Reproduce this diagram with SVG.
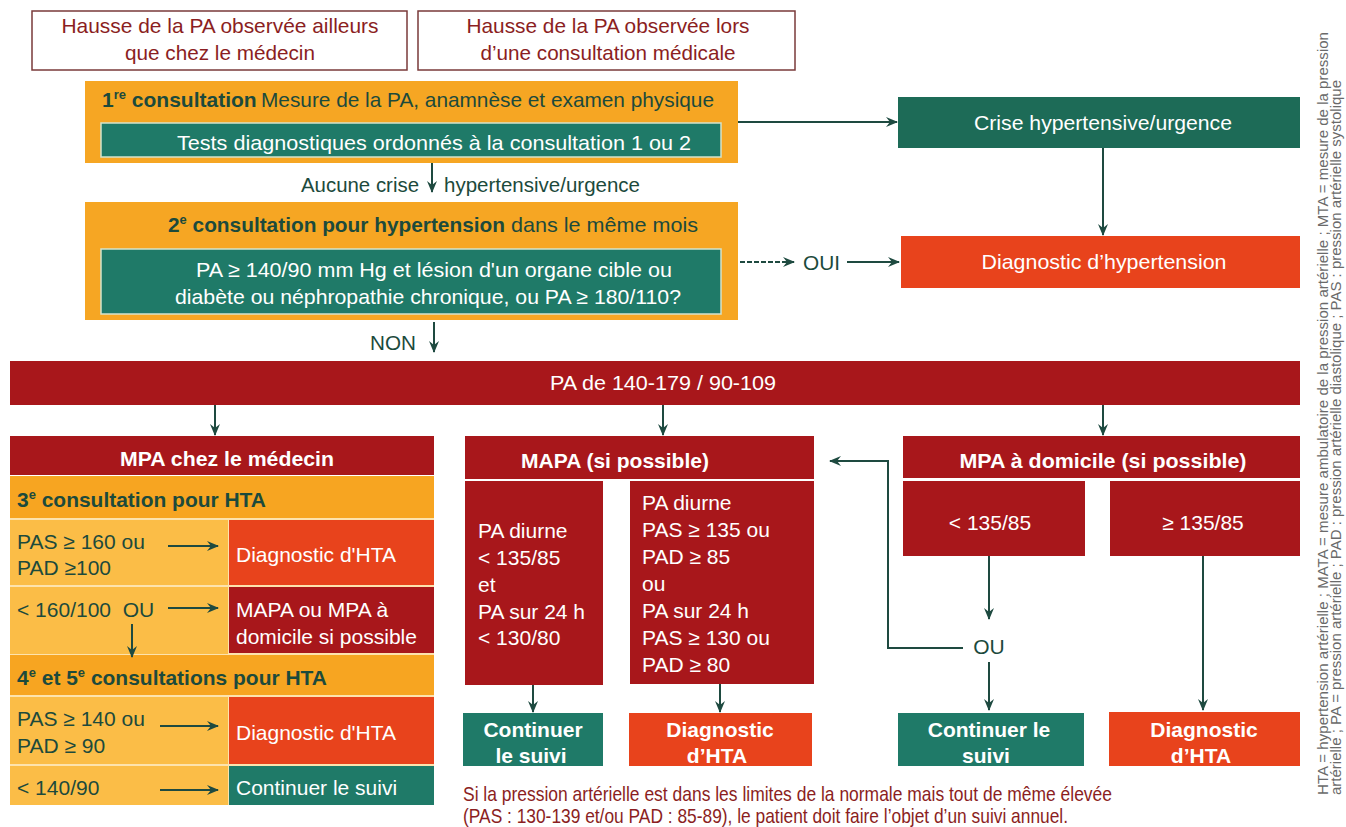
<svg xmlns="http://www.w3.org/2000/svg" width="1346" height="827" viewBox="0 0 1346 827">
<defs>
<marker id="ah" viewBox="0 0 12 10" refX="11" refY="5" markerWidth="12" markerHeight="10" markerUnits="userSpaceOnUse" orient="auto">
<path d="M0,0 L12,5 L0,10 L4,5 z" fill="#1e4a40"/>
</marker>
<style>
text{font-family:"Liberation Sans",Arial,sans-serif;font-size:21px}
.b{font-weight:bold}
.w{fill:#ffffff}
.dg{fill:#1c4a3c}
.dr{fill:#8b1e22}
.mid{text-anchor:middle}
.conn{stroke:#1e4a40;stroke-width:2;fill:none}
.org{fill:#f6a623}
.orgT{fill:#f7a521}
.orgL{fill:#fbbd47}
.red{fill:#a8171b}
.ored{fill:#e8431c}
.teal{fill:#1f7a68}
.tealIn{fill:#1f7a68;stroke:#d5e3cc;stroke-width:1.5}
.top{fill:#ffffff;stroke:#7a3a3a;stroke-width:1.5}
.sup{font-size:13px}
.leg{font-size:14px;fill:#6a6a6a}
</style>
</defs>
<rect width="1346" height="827" fill="#ffffff"/>

<g id="start-ailleurs">
<rect class="top" x="32" y="11" width="375" height="59"/>
<text class="dr mid" x="220" y="33" textLength="317" lengthAdjust="spacingAndGlyphs">Hausse de la PA observée ailleurs</text>
<text class="dr mid" x="220" y="60" textLength="190" lengthAdjust="spacingAndGlyphs">que chez le médecin</text>
</g>

<g id="start-consultation">
<rect class="top" x="418" y="11" width="377" height="59"/>
<text class="dr mid" x="608" y="33" textLength="283" lengthAdjust="spacingAndGlyphs">Hausse de la PA observée lors</text>
<text class="dr mid" x="608" y="60" textLength="255" lengthAdjust="spacingAndGlyphs">d’une consultation médicale</text>
</g>

<g id="consult1">
<rect class="org" x="85" y="81" width="653" height="82"/>
<text class="dg b" x="102" y="107">1<tspan class="sup" dy="-8">re</tspan><tspan dy="8"> consultation</tspan></text>
<text class="dg" x="261" y="107" textLength="453" lengthAdjust="spacingAndGlyphs">Mesure de la PA, anamnèse et examen physique</text>
<rect class="tealIn" x="101" y="123" width="620" height="34"/>
<text class="w" x="177" y="150" textLength="514" lengthAdjust="spacingAndGlyphs">Tests diagnostiques ordonnés à la consultation 1 ou 2</text>
</g>

<g id="label-aucune">
<text class="dg" x="301" y="192" font-size="19" textLength="118" lengthAdjust="spacingAndGlyphs">Aucune crise</text>
<text class="dg" x="444" y="192" font-size="19" textLength="196" lengthAdjust="spacingAndGlyphs">hypertensive/urgence</text>
</g>

<g id="consult2">
<rect class="org" x="85" y="202" width="653" height="118"/>
<text class="dg b" x="168" y="232" textLength="337" lengthAdjust="spacingAndGlyphs">2<tspan class="sup" dy="-8">e</tspan><tspan dy="8"> consultation pour hypertension</tspan></text>
<text class="dg" x="511" y="232" textLength="187" lengthAdjust="spacingAndGlyphs">dans le même mois</text>
<rect class="tealIn" x="101" y="249" width="620" height="65"/>
<text class="w" x="196" y="277" textLength="476" lengthAdjust="spacingAndGlyphs">PA ≥ 140/90 mm Hg et lésion d'un organe cible ou</text>
<text class="w" x="175" y="304" textLength="506" lengthAdjust="spacingAndGlyphs">diabète ou néphropathie chronique, ou PA ≥ 180/110?</text>
</g>

<g id="label-non">
<text class="dg" x="370" y="350" textLength="46" lengthAdjust="spacingAndGlyphs">NON</text>
</g>

<g id="crise">
<rect x="898" y="97" width="402" height="51" fill="#1d6b57"/>
<text class="w mid" x="1103" y="130" textLength="258" lengthAdjust="spacingAndGlyphs">Crise hypertensive/urgence</text>
</g>

<g id="diag-hypertension">
<rect class="ored" x="901" y="236" width="399" height="52"/>
<text class="w mid" x="1104" y="269" textLength="245" lengthAdjust="spacingAndGlyphs">Diagnostic d’hypertension</text>
</g>

<g id="label-oui">
<text class="dg" x="803" y="270" textLength="37" lengthAdjust="spacingAndGlyphs">OUI</text>
</g>

<g id="pa-range">
<rect class="red" x="10" y="361" width="1290" height="44"/>
<text class="w mid" x="663" y="390" textLength="226" lengthAdjust="spacingAndGlyphs">PA de 140-179 / 90-109</text>
</g>

<g id="mpa-medecin">
<rect x="10" y="476" width="424" height="329" fill="#fde3ad"/>
<rect class="red" x="10" y="436" width="424" height="39"/>
<text class="w b mid" x="227" y="466" textLength="214" lengthAdjust="spacingAndGlyphs">MPA chez le médecin</text>
<rect class="orgT" x="10" y="476" width="424" height="42"/>
<text class="dg b" x="17" y="507" textLength="249" lengthAdjust="spacingAndGlyphs">3<tspan class="sup" dy="-8">e</tspan><tspan dy="8"> consultation pour HTA</tspan></text>

<rect class="orgL" x="10" y="520" width="218" height="65"/>
<rect class="ored" x="229" y="520" width="205" height="65"/>
<text class="dg" x="17" y="549">PAS ≥ 160 ou</text>
<text class="dg" x="17" y="575">PAD ≥100</text>
<text class="w" x="236" y="562">Diagnostic d'HTA</text>

<rect class="orgL" x="10" y="587" width="218" height="67"/>
<rect class="red" x="229" y="587" width="205" height="66"/>
<text class="dg" x="17" y="617" xml:space="preserve">&lt; 160/100  OU</text>
<text class="w" x="236" y="617">MAPA ou MPA à</text>
<text class="w" x="236" y="644">domicile si possible</text>

<rect class="orgT" x="10" y="655" width="424" height="40"/>
<text class="dg b" x="17" y="685" textLength="310" lengthAdjust="spacingAndGlyphs">4<tspan class="sup" dy="-8">e</tspan><tspan dy="8"> et 5</tspan><tspan class="sup" dy="-8">e</tspan><tspan dy="8"> consultations pour HTA</tspan></text>

<rect class="orgL" x="10" y="697" width="218" height="67"/>
<rect class="ored" x="229" y="697" width="205" height="67"/>
<text class="dg" x="17" y="726">PAS ≥ 140 ou</text>
<text class="dg" x="17" y="753">PAD ≥ 90</text>
<text class="w" x="236" y="740">Diagnostic d'HTA</text>

<rect class="orgL" x="10" y="766" width="218" height="39"/>
<rect class="teal" x="229" y="766" width="205" height="39"/>
<text class="dg" x="17" y="795">&lt; 140/90</text>
<text class="w" x="236" y="795">Continuer le suivi</text>
</g>

<g id="mapa">
<rect class="red" x="465" y="436" width="349" height="43"/>
<text class="w b mid" x="615" y="468">MAPA (si possible)</text>
<rect class="red" x="465" y="481" width="138" height="204"/>
<text class="w" x="478" y="538">PA diurne</text>
<text class="w" x="478" y="565">&lt; 135/85</text>
<text class="w" x="478" y="592">et</text>
<text class="w" x="478" y="619">PA sur 24 h</text>
<text class="w" x="478" y="645">&lt; 130/80</text>
<rect class="red" x="630" y="481" width="184" height="203"/>
<text class="w" x="642" y="510">PA diurne</text>
<text class="w" x="642" y="537">PAS ≥ 135 ou</text>
<text class="w" x="642" y="564">PAD ≥ 85</text>
<text class="w" x="642" y="591">ou</text>
<text class="w" x="642" y="618">PA sur 24 h</text>
<text class="w" x="642" y="645">PAS ≥ 130 ou</text>
<text class="w" x="642" y="672">PAD ≥ 80</text>
</g>

<g id="mapa-continuer">
<rect class="teal" x="463" y="713" width="140" height="53"/>
<text class="w b mid" x="533" y="737">Continuer</text>
<text class="w b mid" x="531" y="763">le suivi</text>
</g>

<g id="mapa-diagnostic">
<rect class="ored" x="629" y="713" width="183" height="53"/>
<text class="w b mid" x="720" y="737">Diagnostic</text>
<text class="w b mid" x="717" y="763">d’HTA</text>
</g>

<g id="mpa-domicile">
<rect class="red" x="903" y="436" width="397" height="42"/>
<text class="w b mid" x="1103" y="468" textLength="287" lengthAdjust="spacingAndGlyphs">MPA à domicile (si possible)</text>
<rect class="red" x="903" y="481" width="182" height="75"/>
<text class="w mid" x="990" y="530">&lt; 135/85</text>
<rect class="red" x="1110" y="481" width="190" height="75"/>
<text class="w mid" x="1203" y="530">≥ 135/85</text>
</g>

<g id="label-ou">
<text class="dg mid" x="989" y="654">OU</text>
</g>

<g id="dom-continuer">
<rect class="teal" x="898" y="713" width="186" height="53"/>
<text class="w b mid" x="989" y="737">Continuer le</text>
<text class="w b mid" x="986" y="763">suivi</text>
</g>

<g id="dom-diagnostic">
<rect class="ored" x="1109" y="712" width="191" height="54"/>
<text class="w b mid" x="1204" y="737">Diagnostic</text>
<text class="w b mid" x="1201" y="763">d’HTA</text>
</g>

<g id="footnote">
<text class="dr" x="463" y="801" font-size="17" textLength="649" lengthAdjust="spacingAndGlyphs">Si la pression artérielle est dans les limites de la normale mais tout de même élevée</text>
<text class="dr" x="463" y="823" font-size="17" textLength="605" lengthAdjust="spacingAndGlyphs">(PAS : 130-139 et/ou PAD : 85-89), le patient doit faire l’objet d’un suivi annuel.</text>
</g>

<g id="legend">
<text class="leg" transform="translate(1328,795) rotate(-90)" textLength="763" lengthAdjust="spacingAndGlyphs">HTA = hypertension artérielle ; MATA = mesure ambulatoire de la pression artérielle ; MTA = mesure de la pression</text>
<text class="leg" transform="translate(1341,795) rotate(-90)" textLength="715" lengthAdjust="spacingAndGlyphs">artérielle ; PA = pression artérielle ; PAD : pression artérielle diastolique ; PAS : pression artérielle systolique</text>
</g>

<g id="connectors">
<path class="conn" d="M738,122 H897" marker-end="url(#ah)"/>
<path class="conn" d="M432,163 V192" marker-end="url(#ah)"/>
<path class="conn" d="M434,322 V352" marker-end="url(#ah)"/>
<path class="conn" d="M1103,148 V235" marker-end="url(#ah)"/>
<path class="conn" d="M740,262 H794" stroke-dasharray="5 2" marker-end="url(#ah)"/>
<path class="conn" d="M847,262 H899" marker-end="url(#ah)"/>
<path class="conn" d="M215,405 V435" marker-end="url(#ah)"/>
<path class="conn" d="M663,405 V435" marker-end="url(#ah)"/>
<path class="conn" d="M1103,405 V435" marker-end="url(#ah)"/>
<path class="conn" d="M168,546 H218" marker-end="url(#ah)"/>
<path class="conn" d="M168,608 H218" marker-end="url(#ah)"/>
<path class="conn" d="M132,624 V657" marker-end="url(#ah)"/>
<path class="conn" d="M160,726 H218" marker-end="url(#ah)"/>
<path class="conn" d="M160,790 H218" marker-end="url(#ah)"/>
<path class="conn" d="M533,685 V712" marker-end="url(#ah)"/>
<path class="conn" d="M720,684 V712" marker-end="url(#ah)"/>
<path class="conn" d="M989,556 V619" marker-end="url(#ah)"/>
<path class="conn" d="M989,662 V710" marker-end="url(#ah)"/>
<path class="conn" d="M963,648 H888 V461 H830" marker-end="url(#ah)"/>
<path class="conn" d="M1203,556 V710" marker-end="url(#ah)"/>
</g>
</svg>
